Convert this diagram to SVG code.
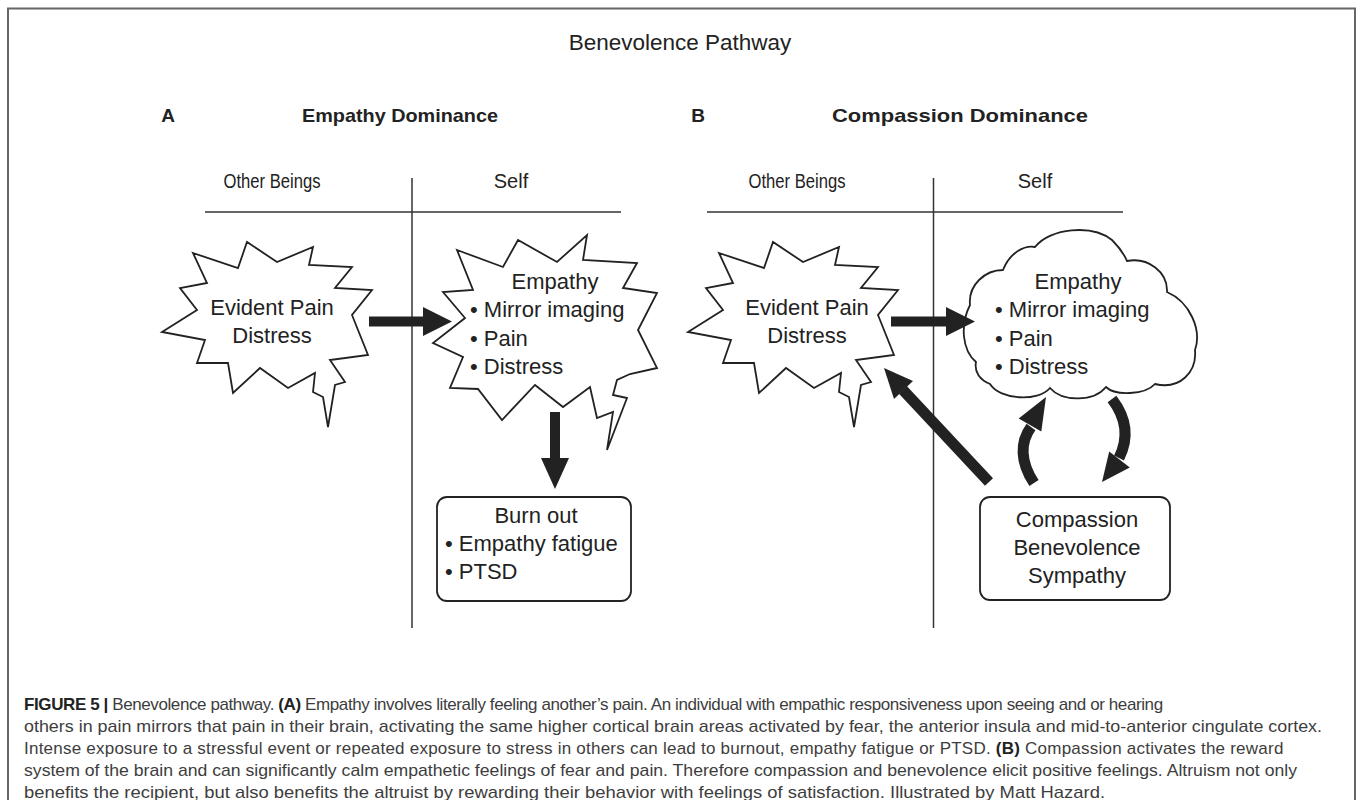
<svg xmlns="http://www.w3.org/2000/svg" width="1360" height="800" viewBox="0 0 1360 800">
<style>
.t{font-family:"Liberation Sans",Arial,sans-serif;fill:#222}
.lbl{font-size:22px}
.hd{font-size:20px}
.bh{font-size:19px;font-weight:bold}
.shape{fill:#fff;stroke:#222;stroke-width:1.8;stroke-linejoin:miter}
.rule{stroke:#333;stroke-width:1.5;fill:none}
.arr{fill:#222;stroke:none}
.carr{fill:none;stroke:#222;stroke-width:11}
.cap{font-family:"Liberation Sans",Arial,sans-serif;font-size:17px;fill:#3d3d3d}
.b{font-weight:bold;fill:#222}
</style>
<rect x="0" y="0" width="1360" height="800" fill="#fff"/>
<path d="M8,805 V8.5 H1355 V805" fill="none" stroke="#666" stroke-width="2"/>

<text class="t" x="680" y="50" text-anchor="middle" font-size="22.5">Benevolence Pathway</text>

<g id="panelA-header">
<text class="t bh" x="168" y="122" text-anchor="middle">A</text>
<text class="t bh" x="400" y="122" text-anchor="middle" textLength="196" lengthAdjust="spacingAndGlyphs">Empathy Dominance</text>
<text class="t hd" x="272" y="188" text-anchor="middle" textLength="97" lengthAdjust="spacingAndGlyphs">Other Beings</text>
<text class="t hd" x="511" y="188" text-anchor="middle">Self</text>
<line class="rule" x1="205" y1="212" x2="621" y2="212"/>
<line class="rule" x1="412" y1="178" x2="412" y2="628"/>
</g>

<g id="panelB-header">
<text class="t bh" x="698" y="122" text-anchor="middle">B</text>
<text class="t bh" x="960" y="122" text-anchor="middle" textLength="256" lengthAdjust="spacingAndGlyphs">Compassion Dominance</text>
<text class="t hd" x="797" y="188" text-anchor="middle" textLength="97" lengthAdjust="spacingAndGlyphs">Other Beings</text>
<text class="t hd" x="1035" y="188" text-anchor="middle">Self</text>
<line class="rule" x1="707" y1="212" x2="1123" y2="212"/>
<line class="rule" x1="933.5" y1="178" x2="933.5" y2="628"/>
</g>

<defs>
<polygon id="burst" points="193,253 238,268 247,242 277,262 313,247 309,265 352,267 335,288 372,290 352,315 368,355 330,360 345,382 335,385 328,427 323,397 313,392 315,373 288,388 260,368 233,393 228,363 197,363 205,340 162,332 197,310 180,288 207,283"/>
</defs>

<g id="evident-pain-A">
<use href="#burst" class="shape"/>
<text class="t lbl" x="272" y="315" text-anchor="middle">Evident Pain</text>
<text class="t lbl" x="272" y="343" text-anchor="middle">Distress</text>
</g>

<g id="empathy-A">
<polygon class="shape" points="457,250 503,267 518,240 557,262 587,235 583,260 637,263 623,288 657,293 638,330 657,368 630,374 617,380 613,395 627,398 607,450 613,412 597,418 590,387 563,407 535,385 502,420 478,389 450,388 463,357 433,343 465,318 443,292 473,290"/>
<text class="t lbl" x="555" y="289" text-anchor="middle">Empathy</text>
<text class="t lbl" x="470" y="317">• Mirror imaging</text>
<text class="t lbl" x="470" y="346">• Pain</text>
<text class="t lbl" x="470" y="374">• Distress</text>
</g>

<g id="burnout-A">
<rect class="shape" x="437" y="497" width="194" height="104" rx="10"/>
<text class="t lbl" x="536" y="523" text-anchor="middle">Burn out</text>
<text class="t lbl" x="445" y="551">• Empathy fatigue</text>
<text class="t lbl" x="445" y="579">• PTSD</text>
</g>

<g id="evident-pain-B">
<use href="#burst" class="shape" transform="translate(526,0)"/>
<text class="t lbl" x="807" y="315" text-anchor="middle">Evident Pain</text>
<text class="t lbl" x="807" y="343" text-anchor="middle">Distress</text>
</g>

<g id="empathy-B">
<path class="shape" d="M976,362 C962,350 960,325 970,305 C968,285 985,270 1003,270 C1010,252 1025,245 1035,247 C1050,228 1092,224 1112,240 C1118,246 1124,254 1127,261 C1148,257 1168,272 1167,292 C1190,302 1202,330 1195,350 C1197,372 1180,390 1155,384 C1145,395 1115,396 1106,387 C1094,402 1062,402 1050,388 C1038,402 1000,400 990,384 C980,380 974,372 976,362 Z"/>
<text class="t lbl" x="1078" y="289" text-anchor="middle">Empathy</text>
<text class="t lbl" x="995" y="317">• Mirror imaging</text>
<text class="t lbl" x="995" y="346">• Pain</text>
<text class="t lbl" x="995" y="374">• Distress</text>
</g>

<g id="compassion-B">
<rect class="shape" x="980" y="497" width="190" height="103" rx="10"/>
<text class="t lbl" x="1077" y="527" text-anchor="middle">Compassion</text>
<text class="t lbl" x="1077" y="555" text-anchor="middle">Benevolence</text>
<text class="t lbl" x="1077" y="583" text-anchor="middle">Sympathy</text>
</g>

<g id="connectors">
<polygon class="arr" points="369,316.5 423,316.5 423,307 452,321.5 423,336 423,326.5 369,326.5"/>
<polygon class="arr" points="550,412 560,412 560,458 569,458 555,489 541,458 550,458"/>
<polygon class="arr" points="891,316.5 946,316.5 946,307 975,321.5 946,336 946,326.5 891,326.5"/>
<line x1="989" y1="482" x2="903" y2="390" stroke="#222" stroke-width="11"/>
<polygon class="arr" points="884,368 913,381 894,399"/>
<path class="carr" d="M1034,483 C1020,462 1020,442 1031,427"/>
<polygon class="arr" points="1046,397 1041.3,431.5 1018.7,418.5"/>
<path class="carr" d="M1112,399 C1128,420 1128,440 1119,458"/>
<polygon class="arr" points="1102,482 1129.8,467.5 1109.2,451.5"/>
</g>

<g id="caption">
<text class="cap" x="24" y="710" letter-spacing="-0.4"><tspan class="b">FIGURE 5 |</tspan> Benevolence pathway. <tspan class="b">(A)</tspan> Empathy involves literally feeling another’s pain. An individual with empathic responsiveness upon seeing and or hearing</text>
<text class="cap" x="24" y="732" textLength="1298" lengthAdjust="spacingAndGlyphs">others in pain mirrors that pain in their brain, activating the same higher cortical brain areas activated by fear, the anterior insula and mid-to-anterior cingulate cortex.</text>
<text class="cap" x="24" y="754" letter-spacing="0.23">Intense exposure to a stressful event or repeated exposure to stress in others can lead to burnout, empathy fatigue or PTSD. <tspan class="b">(B)</tspan> Compassion activates the reward</text>
<text class="cap" x="24" y="776" textLength="1273" lengthAdjust="spacingAndGlyphs">system of the brain and can significantly calm empathetic feelings of fear and pain. Therefore compassion and benevolence elicit positive feelings. Altruism not only</text>
<text class="cap" x="24" y="798" textLength="1081" lengthAdjust="spacingAndGlyphs">benefits the recipient, but also benefits the altruist by rewarding their behavior with feelings of satisfaction. Illustrated by Matt Hazard.</text>
</g>
</svg>
